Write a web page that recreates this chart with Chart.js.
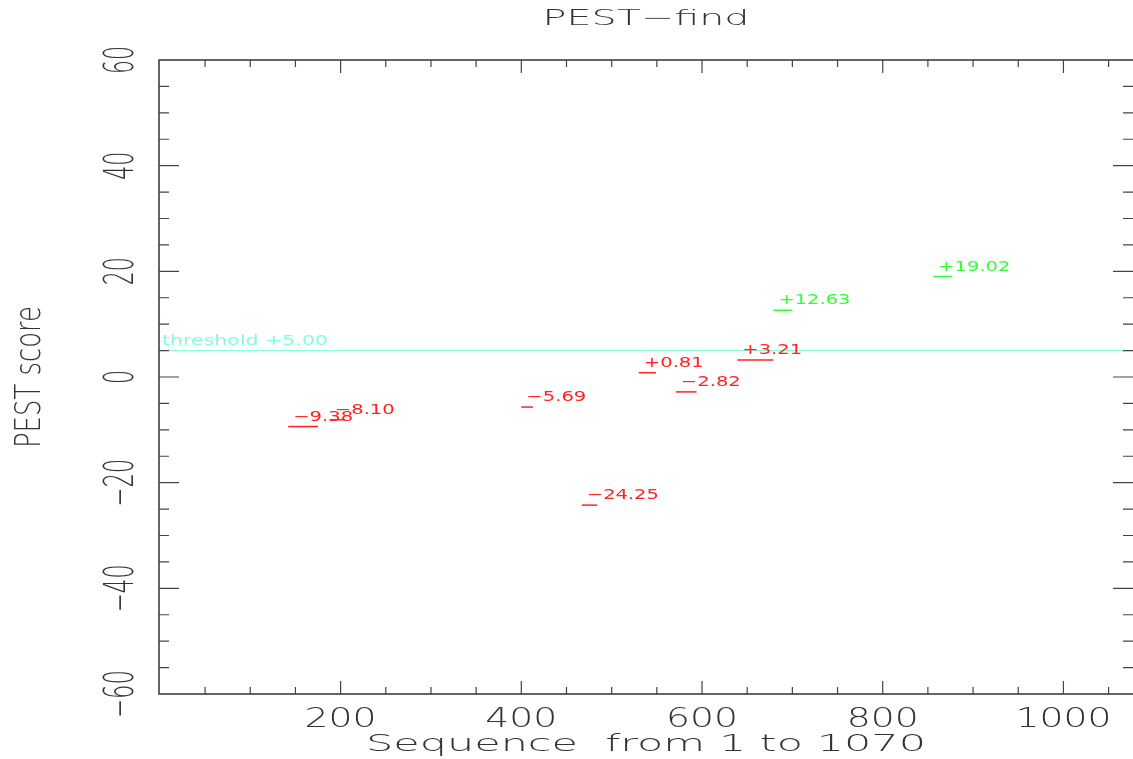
<!DOCTYPE html>
<html>
<head>
<meta charset="utf-8">
<script src="https://cdn.jsdelivr.net/npm/chart.js@4"></script>
<style>
  body { margin: 0; background: #fff; }
  #box { width: 1133px; height: 759px; }
</style>
</head>
<body>
<div id="box"><canvas id="pest" width="1133" height="759"></canvas></div>
<script>
// PEST regions (sequence start, end, score)
const regionStart = [142, 188, 400, 467, 530, 571, 639, 679, 856];
const regionEnd   = [175, 205, 413, 484, 549, 594, 679, 700, 877];
const pestScore   = [-9.38, -8.10, -5.69, -24.25, 0.81, -2.82, 3.21, 12.63, 19.02];
const threshold = 5.0;

const xTickLabels = [200, 400, 600, 800, 1000];
const yTickLabels = [-60, -40, -20, 0, 20, 40, 60];

const RED = "#ff2222";
const GREEN = "#33ff33";
const CYAN = "#80ffd8";
const INK = "#333333";

const fmt = (v) => (v < 0 ? "\u2212" : "+") + Math.abs(v).toFixed(2);

// one short line per region
const regionSets = pestScore.map((s, i) => ({
  data: [{x: regionStart[i], y: s}, {x: regionEnd[i], y: s}],
  showLine: true,
  borderColor: s > threshold ? GREEN : RED,
  borderWidth: 1.5,
  pointRadius: 0,
}));

const thresholdSet = {
  data: [{x: -1, y: threshold}, {x: 1077, y: threshold}],
  showLine: true,
  borderColor: CYAN,
  borderWidth: 1,
  pointRadius: 0,
};

// text drawn stretched like the old plotter font
function drawText(ctx, str, x, y, o) {
  ctx.save();
  ctx.font = (o.weight || 300) + " " + (o.cap / 0.73) + "px 'DejaVu Sans', sans-serif";
  const w0 = ctx.measureText(str).width;
  const sx = o.width ? o.width / w0 : 1;
  ctx.translate(x, y);
  if (o.rot) ctx.rotate(-Math.PI / 2);
  ctx.scale(sx, 1);
  ctx.textAlign = o.align || "left";
  ctx.textBaseline = "alphabetic";
  ctx.fillStyle = o.color || INK;
  ctx.fillText(str, 0, 0);
  ctx.restore();
}

const framePlugin = {
  id: "frame",
  afterDatasetsDraw(chart) {
    const ctx = chart.ctx;
    const a = chart.chartArea;
    const xs = chart.scales.x, ys = chart.scales.y;

    // box (right side sits on the picture edge)
    ctx.save();
    ctx.strokeStyle = INK;
    ctx.lineWidth = 1.5;
    ctx.beginPath();
    ctx.moveTo(a.right, a.top); ctx.lineTo(a.left, a.top);
    ctx.lineTo(a.left, a.bottom); ctx.lineTo(a.right, a.bottom);
    ctx.stroke();

    // ticks, inward on all four sides
    ctx.lineWidth = 1.2;
    ctx.strokeStyle = "#444";
    ctx.beginPath();
    for (let v = 50; v <= 1050; v += 50) {
      const px = xs.getPixelForValue(v);
      const len = v % 200 === 0 ? 13 : 7;
      ctx.moveTo(px, a.bottom); ctx.lineTo(px, a.bottom - len);
      ctx.moveTo(px, a.top); ctx.lineTo(px, a.top + len);
    }
    for (let v = -55; v <= 55; v += 5) {
      const py = ys.getPixelForValue(v);
      const len = v % 20 === 0 ? 20 : 10;
      ctx.moveTo(a.left, py); ctx.lineTo(a.left + len, py);
      ctx.moveTo(a.right, py); ctx.lineTo(a.right - len, py);
    }
    ctx.stroke();
    ctx.restore();

    // tick labels
    xTickLabels.forEach(v => {
      drawText(ctx, String(v), xs.getPixelForValue(v), 727,
        {cap: 20, width: 24 * String(v).length, align: "center", weight: 300});
    });
    yTickLabels.forEach(v => {
      const s = (v < 0 ? "\u2212" : "") + Math.abs(v);
      const w = 14 * String(Math.abs(v)).length + (v < 0 ? 20 : 0);
      drawText(ctx, s, 133, ys.getPixelForValue(v),
        {cap: 30, width: w, align: "center", rot: true, weight: 300});
    });

    // titles
    const cx = (a.left + a.right) / 2;
    drawText(ctx, "PEST\u2212find", cx, 25, {cap: 16, width: 207, align: "center", weight: 300});
    drawText(ctx, "Sequence  from 1 to 1070", cx, 751, {cap: 17, width: 560, align: "center", weight: 300});
    drawText(ctx, "PEST score", 40, (a.top + a.bottom) / 2, {cap: 26, width: 142, align: "center", rot: true, weight: 300});

    // threshold label
    drawText(ctx, "threshold +5.00", a.left + 3, ys.getPixelForValue(threshold) - 6,
      {cap: 10.5, width: 166, color: CYAN, weight: 400});

    // region labels
    pestScore.forEach((s, i) => {
      const t = fmt(s);
      drawText(ctx, t, xs.getPixelForValue(regionStart[i]) + 5, ys.getPixelForValue(s) - 6,
        {cap: 10, width: 12 * t.length, color: s > threshold ? GREEN : RED, weight: 400});
    });
  }
};

new Chart(document.getElementById("pest"), {
  type: "scatter",
  data: { datasets: [thresholdSet, ...regionSets] },
  options: {
    responsive: false,
    animation: false,
    layout: { padding: { left: 159, top: 60, right: 0, bottom: 65 } },
    scales: {
      x: { type: "linear", min: -1, max: 1077, display: false },
      y: { type: "linear", min: -60, max: 60, display: false },
    },
    plugins: {
      legend: { display: false },
      tooltip: { enabled: false },
      title: { display: false },
    },
  },
  plugins: [framePlugin],
});
</script>
</body>
</html>
